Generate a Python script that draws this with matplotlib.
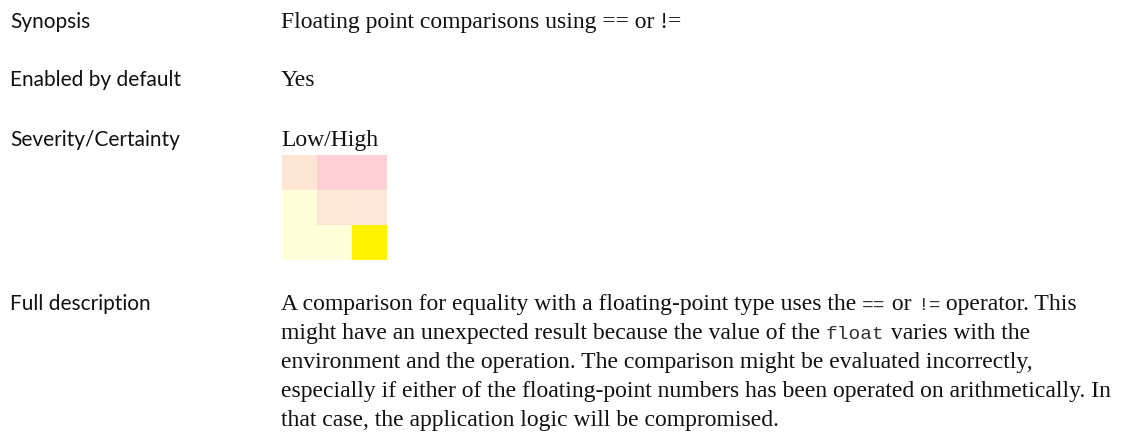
import numpy as np
import matplotlib.pyplot as plt
from matplotlib.colors import to_rgb

W, H = 1123, 432

labels = ['Synopsis', 'Enabled by default', 'Severity/Certainty', 'Full description']
synopsis = 'Floating point comparisons using == or !='
enabled = 'Yes'
severity = 'Low/High'

# severity/certainty grid colours, rows top to bottom
grid_colors = [
    ['#FFE5D4', '#FFCFD3', '#FFD1D5'],
    ['#FFFFDC', '#FFE7D6', '#FFE8D7'],
    ['#FFFFDC', '#FFFFDA', '#FFF200'],
]

# description lines as (text, monospace?) runs
description = [
    [('A comparison for equality with a floating-point type uses the ', False), ('==', True),
     (' or ', False), ('!=', True), (' operator. This', False)],
    [('might have an unexpected result because the value of the ', False), ('float', True),
     (' varies with the', False)],
    [('environment and the operation. The comparison might be evaluated incorrectly,', False)],
    [('especially if either of the floating-point numbers has been operated on arithmetically. In', False)],
    [('that case, the application logic will be compromised.', False)],
]

label_font = dict(family='Lato', size=15, color='#111111')
body_font = dict(family='Liberation Serif', size=17, color='#111111')
mono_font = dict(family='Liberation Mono', size=14, color='#333333')

fig = plt.figure(figsize=(W / 100, H / 100), dpi=100)
fig.patch.set_facecolor('white')


def put(x, y, s, **kw):
    return fig.text(x / W, 1 - y / H, s, va='baseline', ha='left', **kw)


label_y = [28, 86, 146, 310]
for lab, y in zip(labels, label_y):
    put(10, y, lab, **label_font)

put(281, 28, synopsis, **body_font)
put(281, 86, enabled, **body_font)
put(281, 146, severity, **body_font)

ax = fig.add_axes([282 / W, 1 - 260 / H, 105 / W, 105 / H])
rgb = np.array([[to_rgb(c) for c in row] for row in grid_colors])
ax.imshow(rgb, aspect='auto', interpolation='nearest')
ax.axis('off')

renderer = fig.canvas.get_renderer()
y = 310
for line in description:
    x = 281
    for s, mono in line:
        t = put(x, y, s, **(mono_font if mono else body_font))
        x += t.get_window_extent(renderer=renderer).width
    y += 29

fig.savefig('out.png', dpi=100)
